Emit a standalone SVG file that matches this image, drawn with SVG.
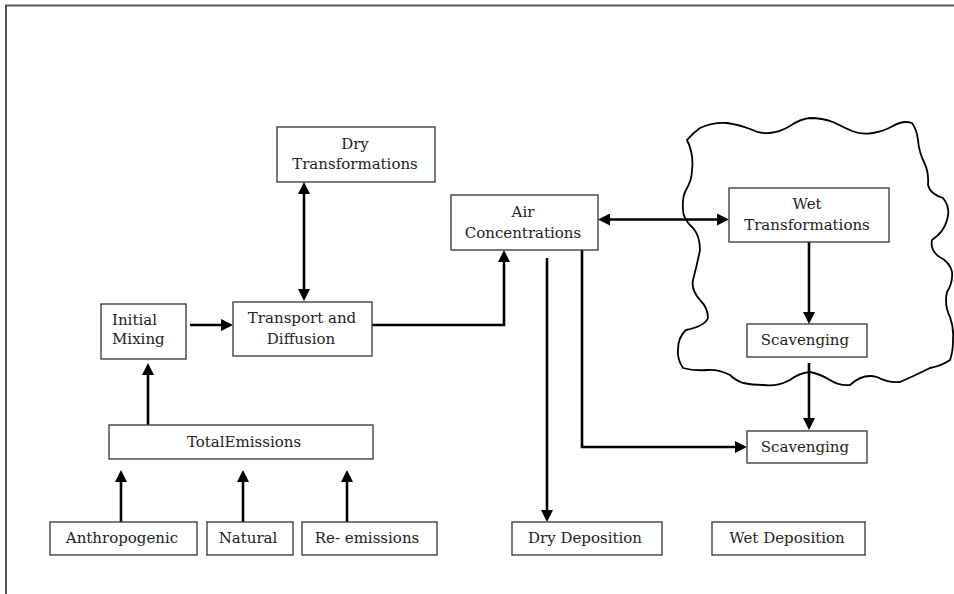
<svg xmlns="http://www.w3.org/2000/svg" width="954" height="594" viewBox="0 0 954 594">
<style>
.box{fill:#fff;stroke:#333;stroke-width:1.3}
.t{font-family:"DejaVu Serif","Liberation Serif",serif;font-size:15px;fill:#222;text-anchor:middle}
.c{fill:none;stroke:#000;stroke-width:2.6}
</style>
<defs>
<marker id="ah" markerUnits="userSpaceOnUse" markerWidth="12" markerHeight="12" refX="9" refY="6" orient="auto-start-reverse">
<path d="M0,0 L12,6 L0,12 z" fill="#000"/>
</marker>
</defs>
<rect width="954" height="594" fill="#fff"/>
<path d="M6,594 V5.5 H954" fill="none" stroke="#555" stroke-width="2"/>
<g id="cloud">
<path d="M687,140 Q693,133 700,128 Q713,122 727,123 Q740,125 750,129 Q760,134 770,133 Q780,132 790,126 Q800,119 810,118 Q822,118 833,122 Q843,127 852,131 Q862,135 873,133 Q884,131 893,126 Q903,120 912,123 Q917,130 918,140 Q919,152 924,162 Q929,172 928,185 Q930,194 943,198 Q951,208 947,220 Q944,232 932,240 Q930,249 938,256 Q950,262 952,272 Q953,283 947,292 Q944,305 950,317 Q954,328 953,340 Q953,352 950,360 Q941,366 930,368 Q914,376 900,382 Q888,383 877,377 Q863,373 850,385 Q839,386 830,380 Q820,374 810,372 Q799,373 790,380 Q777,387 763,385 Q752,385 743,383 Q735,380 730,375 Q718,369 707,370 Q694,371 683,368 Q677,359 678,350 Q678,337 686,330 Q705,326 708,318 Q708,308 700,300 Q691,290 693,280 Q697,265 700,250 Q700,236 693,228 Q683,219 683,210 Q682,197 686,190 Q692,180 692,170 Q694,154 687,140 Z" fill="none" stroke="#000" stroke-width="1.8"/>
</g>
<g id="connectors">
<path class="c" d="M304,185 V298" marker-start="url(#ah)" marker-end="url(#ah)"/>
<path class="c" d="M190,325 H230" marker-end="url(#ah)"/>
<path class="c" d="M372,325 H504 V253" marker-end="url(#ah)"/>
<path class="c" d="M601,219.5 H726" marker-start="url(#ah)" marker-end="url(#ah)"/>
<path class="c" d="M809,242 V321" marker-end="url(#ah)"/>
<path class="c" d="M809,363 V427" marker-end="url(#ah)"/>
<path class="c" d="M582,250 V447 H744" marker-end="url(#ah)"/>
<path class="c" d="M547,258 V519" marker-end="url(#ah)"/>
<path class="c" d="M148,425 V366" marker-end="url(#ah)"/>
<path class="c" d="M121,522 V473" marker-end="url(#ah)"/>
<path class="c" d="M243,522 V473" marker-end="url(#ah)"/>
<path class="c" d="M347,522 V473" marker-end="url(#ah)"/>
</g>
<g id="dry-transformations">
<rect class="box" x="277" y="127" width="158" height="55"/>
<text class="t" x="355" y="149">Dry</text>
<text class="t" x="355" y="169">Transformations</text>
</g>
<g id="initial-mixing">
<rect class="box" x="101" y="304" width="85" height="55"/>
<text class="t" x="112" y="325" style="text-anchor:start">Initial</text>
<text class="t" x="112" y="344" style="text-anchor:start">Mixing</text>
</g>
<g id="transport-diffusion">
<rect class="box" x="233" y="302" width="139" height="54"/>
<text class="t" x="302" y="323">Transport and</text>
<text class="t" x="301" y="344">Diffusion</text>
</g>
<g id="air-concentrations">
<rect class="box" x="451" y="195" width="147" height="55"/>
<text class="t" x="523" y="217">Air</text>
<text class="t" x="523" y="238">Concentrations</text>
</g>
<g id="wet-transformations">
<rect class="box" x="729" y="188" width="160" height="54"/>
<text class="t" x="807" y="209">Wet</text>
<text class="t" x="807" y="230">Transformations</text>
</g>
<g id="scavenging-1">
<rect class="box" x="747" y="324" width="120" height="33"/>
<text class="t" x="805" y="345">Scavenging</text>
</g>
<g id="scavenging-2">
<rect class="box" x="747" y="431" width="120" height="32"/>
<text class="t" x="805" y="452">Scavenging</text>
</g>
<g id="total-emissions">
<rect class="box" x="109" y="425" width="264" height="34"/>
<text class="t" x="244" y="447">TotalEmissions</text>
</g>
<g id="anthropogenic">
<rect class="box" x="50" y="522" width="147" height="33"/>
<text class="t" x="122" y="543">Anthropogenic</text>
</g>
<g id="natural">
<rect class="box" x="207" y="522" width="86" height="33"/>
<text class="t" x="248" y="543">Natural</text>
</g>
<g id="re-emissions">
<rect class="box" x="302" y="522" width="135" height="33"/>
<text class="t" x="367" y="543">Re- emissions</text>
</g>
<g id="dry-deposition">
<rect class="box" x="512" y="522" width="150" height="33"/>
<text class="t" x="585" y="543">Dry Deposition</text>
</g>
<g id="wet-deposition">
<rect class="box" x="712" y="522" width="153" height="33"/>
<text class="t" x="787" y="543">Wet Deposition</text>
</g>
</svg>
